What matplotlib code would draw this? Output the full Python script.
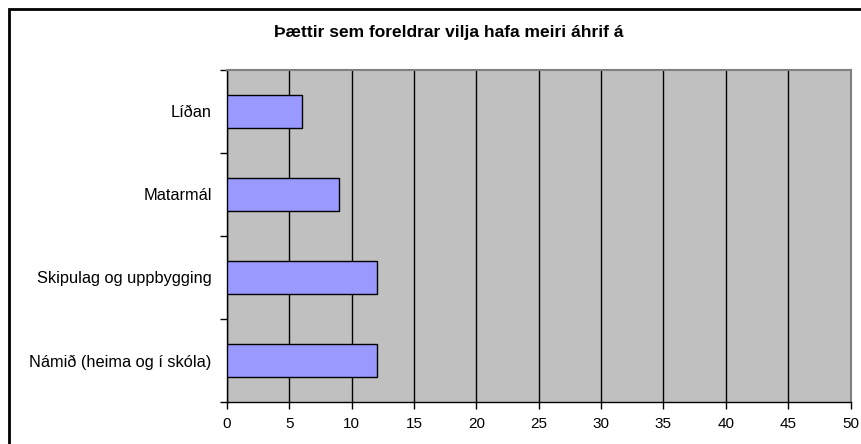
import numpy as np
import matplotlib.pyplot as plt
from matplotlib.patches import Rectangle

plt.rcParams['font.family'] = ['Liberation Sans', 'DejaVu Sans']

# data (bottom to top)
categories = ["Námið (heima og í skóla)", "Skipulag og uppbygging", "Matarmál", "Líðan"]
values = [12, 12, 9, 6]
x_ticks = list(range(0, 55, 5))
title = "Þættir sem foreldrar vilja hafa meiri áhrif á"

fig = plt.figure(figsize=(8.62, 4.44), dpi=100)
ax = fig.add_axes([227 / 862, 1 - 402 / 444, (850.5 - 227) / 862, (402 - 70) / 444])

ax.set_facecolor("#C0C0C0")
ypos = np.arange(len(categories))
ax.barh(ypos, values, height=0.4, color="#9999FF", edgecolor="black", linewidth=1, zorder=3)

ax.set_xlim(0, 50)
ax.set_ylim(-0.5, len(categories) - 0.5)
ax.set_xticks(x_ticks)
ax.set_xticklabels([str(t) for t in x_ticks], fontsize=11)
ax.xaxis.grid(True, color="black", linewidth=1, zorder=1)
ax.set_axisbelow(True)

ax.set_yticks(ypos)
ax.set_yticklabels(categories, fontsize=11.8)
ax.set_yticks(np.arange(-0.5, len(categories), 1), minor=True)
ax.tick_params(axis="y", which="major", length=0, pad=11)
ax.tick_params(axis="y", which="minor", length=5, width=1, direction="out")
ax.tick_params(axis="x", length=5, width=1, direction="out", pad=6)

for s in ["left", "bottom"]:
    ax.spines[s].set_color("black")
    ax.spines[s].set_linewidth(1)
for s in ["top", "right"]:
    ax.spines[s].set_color("#808080")
    ax.spines[s].set_linewidth(1.5)

fig.text(449 / 862, 1 - 33 / 444, title, ha="center", va="center",
         fontsize=12.5, fontweight="bold")

# chart outer frame (cropped at right and bottom)
fig.patches.append(Rectangle((9 / 862, -0.1), 1.2, 1 - 9 / 444 + 0.1,
                             transform=fig.transFigure, fill=False,
                             edgecolor="black", linewidth=2))

fig.savefig("out.png", dpi=100)
